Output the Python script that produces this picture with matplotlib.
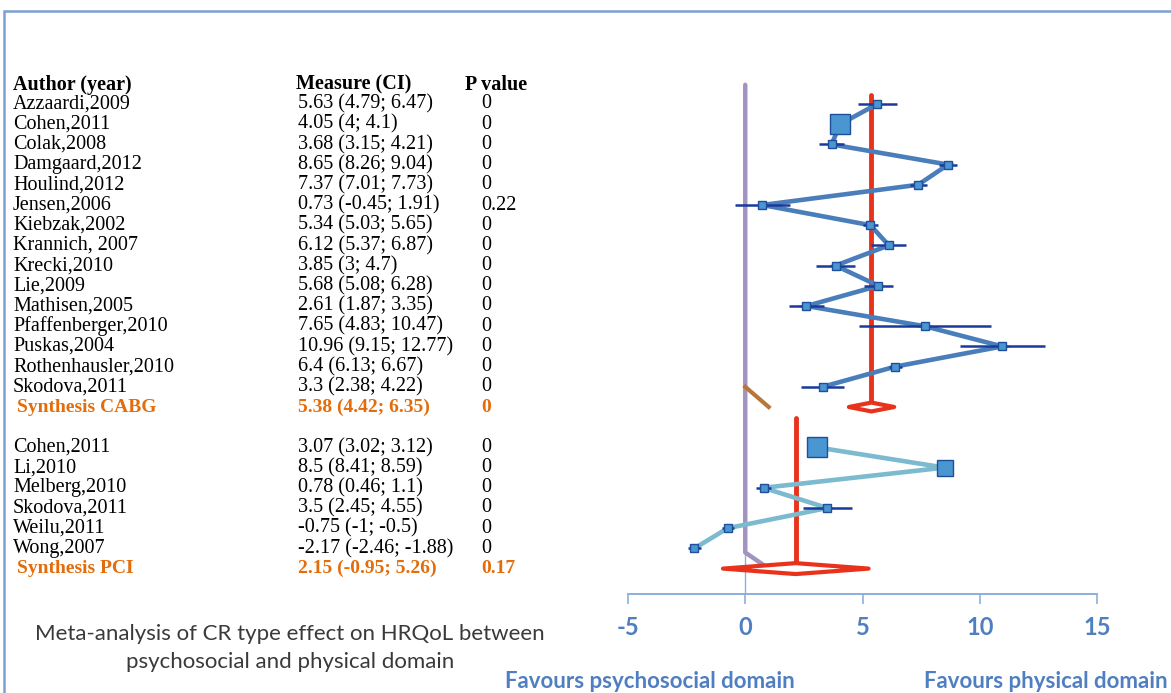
import matplotlib
matplotlib.use("Agg")
import matplotlib.pyplot as plt
from matplotlib.transforms import blended_transform_factory
from matplotlib.patches import Polygon, Rectangle

W, H = 1171, 693

# ---------------- data ----------------
cabg_authors = ["Azzaardi,2009", "Cohen,2011", "Colak,2008", "Damgaard,2012", "Houlind,2012",
                "Jensen,2006", "Kiebzak,2002", "Krannich, 2007", "Krecki,2010", "Lie,2009",
                "Mathisen,2005", "Pfaffenberger,2010", "Puskas,2004", "Rothenhausler,2010",
                "Skodova,2011"]
cabg_mean = [5.63, 4.05, 3.68, 8.65, 7.37, 0.73, 5.34, 6.12, 3.85, 5.68, 2.61, 7.65, 10.96, 6.4, 3.3]
cabg_lo = [4.79, 4, 3.15, 8.26, 7.01, -0.45, 5.03, 5.37, 3, 5.08, 1.87, 4.83, 9.15, 6.13, 2.38]
cabg_hi = [6.47, 4.1, 4.21, 9.04, 7.73, 1.91, 5.65, 6.87, 4.7, 6.28, 3.35, 10.47, 12.77, 6.67, 4.22]
cabg_p = ["0", "0", "0", "0", "0", "0.22", "0", "0", "0", "0", "0", "0", "0", "0", "0"]
cabg_weight = [1, 2.3, 1, 1, 1, 1, 1, 1, 1, 1, 1, 1, 1, 1, 1]
cabg_synth_label = "Synthesis CABG"
cabg_synth = [5.38, 4.42, 6.35]
cabg_synth_p = "0"

pci_authors = ["Cohen,2011", "Li,2010", "Melberg,2010", "Skodova,2011", "Weilu,2011", "Wong,2007"]
pci_mean = [3.07, 8.5, 0.78, 3.5, -0.75, -2.17]
pci_lo = [3.02, 8.41, 0.46, 2.45, -1, -2.46]
pci_hi = [3.12, 8.59, 1.1, 4.55, -0.5, -1.88]
pci_p = ["0", "0", "0", "0", "0", "0"]
pci_weight = [2.5, 1.9, 1, 1, 1, 1]
pci_synth_label = "Synthesis PCI"
pci_synth = [2.15, -0.95, 5.26]
pci_synth_p = "0.17"

xticks = [-5, 0, 5, 10, 15]
null_path_x = [0, 0, 1.0]

# ---------------- layout ----------------
ROW0, ROWH = 104.0, 20.2          # pixel y of first row and row spacing
AX_L, AX_R, AX_B = 628, 1097, 594  # forest axes pixel extent

cabg_rows = list(range(len(cabg_authors)))
cabg_synth_row = len(cabg_authors)
pci_rows = [cabg_synth_row + 2 + i for i in range(len(pci_authors))]
pci_synth_row = pci_rows[-1] + 1

fig = plt.figure(figsize=(W / 100, H / 100), dpi=100)
fig.patch.set_facecolor("white")

SANS = ["Lato", "Liberation Sans", "DejaVu Sans"]

ax = fig.add_axes([AX_L / W, (H - AX_B) / H, (AX_R - AX_L) / W, AX_B / H])
ax.set_xlim(xticks[0], xticks[-1])
ax.set_ylim((AX_B - ROW0) / ROWH, -ROW0 / ROWH)
ax.patch.set_alpha(0)
for s in ["top", "right", "left"]:
    ax.spines[s].set_visible(False)
ax.spines["bottom"].set_color("#8cb0dc")
ax.spines["bottom"].set_linewidth(1.4)
ax.set_yticks([])
ax.set_xticks(xticks)
ax.set_xticklabels([str(t) for t in xticks])
ax.tick_params(axis="x", direction="out", length=7, width=1.2, color="#8cb0dc",
               pad=9, labelsize=17, labelcolor="#4f7fc0")
for lab in ax.get_xticklabels():
    lab.set_family(SANS)
    lab.set_fontweight("bold")

RED = "#e8321c"
PURPLE = "#a393c0"
WHISK = "#1a3a9a"
MFACE = "#4a96d0"
MEDGE = "#1f4e9c"

# null line (purple) and short segments
ax.plot(null_path_x, [-0.95, pci_rows[-1] + 0.2, pci_synth_row], color=PURPLE, lw=3.2,
        solid_capstyle="round", zorder=2)
ax.plot(null_path_x[1:], [cabg_rows[-1], cabg_synth_row], color="#b8763a", lw=3, zorder=2)
ax.plot([0, 0], [pci_rows[-1] + 0.3, (AX_B - ROW0) / ROWH], color="#8cb0dc", lw=1, zorder=1)

# synthesis lines and diamonds
ax.plot([cabg_synth[0]] * 2, [-0.45, cabg_synth_row], color=RED, lw=3.5,
        solid_capstyle="round", zorder=3)
ax.plot([pci_synth[0]] * 2, [cabg_synth_row + 0.55, pci_synth_row], color=RED, lw=3.5,
        solid_capstyle="round", zorder=3)
for (m, lo, hi), r, h in [(cabg_synth, cabg_synth_row, 0.22), (pci_synth, pci_synth_row, 0.27)]:
    ax.add_patch(Polygon([[lo, r], [m, r - h], [hi, r], [m, r + h]], closed=True,
                         facecolor="white", edgecolor=RED, lw=3, joinstyle="round", zorder=4))

# study connecting lines
ax.plot(cabg_mean, cabg_rows, color="#4a7ebb", lw=3.3, zorder=3, solid_joinstyle="miter")
ax.plot(pci_mean, pci_rows, color="#7cbad0", lw=3.3, zorder=3, solid_joinstyle="miter")

# whiskers and markers
for means, los, his, rows, wts in [(cabg_mean, cabg_lo, cabg_hi, cabg_rows, cabg_weight),
                                    (pci_mean, pci_lo, pci_hi, pci_rows, pci_weight)]:
    ax.hlines(rows, los, his, color=WHISK, lw=1.8, zorder=5)
    for m, r, w in zip(means, rows, wts):
        ax.plot(m, r, marker="s", ms=6 * w, mfc=MFACE, mec=MEDGE, mew=1.0, zorder=6)

# ---------------- table text ----------------
tr = blended_transform_factory(fig.transFigure, ax.transData)
SERIF = ["Liberation Serif", "DejaVu Serif"]
ORANGE = "#e46c0a"
COL_AUTH, COL_MEAS, COL_P = 13, 298, 481


def fmt(m, lo, hi):
    return f"{m:g} ({lo:g}; {hi:g})"


fig.text(COL_AUTH / W, -0.95, "Author (year)", transform=tr, family=SERIF, fontsize=14.5,
         fontweight="bold", va="center", ha="left")
fig.text(COL_MEAS / W - 0.002, -0.95, "Measure (CI)", transform=tr, family=SERIF, fontsize=14.5,
         fontweight="bold", va="center", ha="left")
fig.text(465 / W, -0.95, "P value", transform=tr, family=SERIF, fontsize=14.5,
         fontweight="bold", va="center", ha="left")

for authors, means, los, his, ps, rows in [(cabg_authors, cabg_mean, cabg_lo, cabg_hi, cabg_p, cabg_rows),
                                           (pci_authors, pci_mean, pci_lo, pci_hi, pci_p, pci_rows)]:
    for a, m, lo, hi, p, r in zip(authors, means, los, his, ps, rows):
        fig.text(COL_AUTH / W, r, a, transform=tr, family=SERIF, fontsize=14.5, va="center")
        fig.text(COL_MEAS / W, r, fmt(m, lo, hi), transform=tr, family=SERIF, fontsize=14.5,
                 va="center")
        fig.text(COL_P / W, r, p, transform=tr, family=SERIF, fontsize=14.5, va="center")

for label, (m, lo, hi), p, r in [(cabg_synth_label, cabg_synth, cabg_synth_p, cabg_synth_row),
                                  (pci_synth_label, pci_synth, pci_synth_p, pci_synth_row)]:
    fig.text(17 / W, r, label, transform=tr, family=SERIF, fontsize=14, fontweight="bold",
             color=ORANGE, va="center")
    fig.text(COL_MEAS / W, r, fmt(m, lo, hi), transform=tr, family=SERIF, fontsize=14,
             fontweight="bold", color=ORANGE, va="center")
    fig.text(COL_P / W, r, p, transform=tr, family=SERIF, fontsize=14, fontweight="bold",
             color=ORANGE, va="center")

# ---------------- captions ----------------
fig.text(290 / W, 1 - 634 / H, "Meta-analysis of CR type effect on HRQoL between",
         family=SANS, fontsize=16, color="#3a3a3a", ha="center", va="center")
fig.text(290 / W, 1 - 662 / H, "psychosocial and physical domain",
         family=SANS, fontsize=16, color="#3a3a3a", ha="center", va="center")
fig.text(505 / W, 1 - 681 / H, "Favours psychosocial domain", family=SANS, fontsize=16,
         fontweight="bold", color="#4f7fc0", ha="left", va="center")
fig.text(1168 / W, 1 - 681 / H, "Favours physical domain", family=SANS, fontsize=16,
         fontweight="bold", color="#4f7fc0", ha="right", va="center")

# outer frame (only left and top edges visible)
fig.add_artist(Rectangle((4 / W, -0.2), 1.3, 1.2 - 11 / H, transform=fig.transFigure,
                         fill=False, edgecolor="#7aa0d4", lw=1.8))

fig.savefig("out.png", dpi=100, facecolor="white")
